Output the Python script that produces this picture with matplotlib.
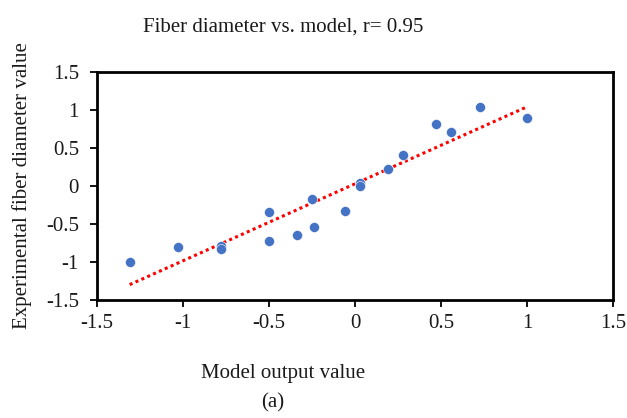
import numpy as np
import matplotlib
matplotlib.use("Agg")
import matplotlib.pyplot as plt

###data
model_out = [-1.31, -1.03, -0.78, -0.78, -0.50, -0.50, -0.34, -0.25, -0.24, -0.06,
             0.03, 0.03, 0.19, 0.28, 0.47, 0.56, 0.725, 1.00]
fiber_exp = [-1.00, -0.80, -0.785, -0.83, -0.34, -0.73, -0.64, -0.17, -0.535, -0.33,
             0.04, 0.005, 0.23, 0.41, 0.815, 0.715, 1.035, 0.895]
ticks = [-1.5, -1, -0.5, 0, 0.5, 1, 1.5]
tick_labels = ["-1.5", "-1", "-0.5", "0", "0.5", "1", "1.5"]

title = "Fiber diameter vs. model, r= 0.95"
xlabel = "Model output value"
ylabel = "Experimental fiber diameter value"

plt.rcParams['font.family'] = ['Liberation Serif', 'DejaVu Serif']

W, H = 627, 418
fig = plt.figure(figsize=(W / 100, H / 100), dpi=100)
ax = fig.add_axes([97 / W, 1 - 300 / H, (613 - 97) / W, (300 - 72) / H])

#linear trendline over the data range
x = np.array(model_out)
y = np.array(fiber_exp)
slope, icept = np.polyfit(x, y, 1)
xl = np.array([x.min(), x.max()])
ax.plot(xl, icept + slope * xl, color='red', lw=2.2, linestyle=(0, (1, 1.1)), zorder=2)

ax.scatter(x, y, s=52, color='#4472C4', edgecolor='white', linewidth=0.4, zorder=3)

ax.set_xlim(-1.5, 1.5)
ax.set_ylim(-1.5, 1.5)
ax.set_xticks(ticks)
ax.set_xticklabels(tick_labels)
ax.set_yticks(ticks)
ax.set_yticklabels(tick_labels)
ax.tick_params(axis='both', direction='out', length=5, width=1.3, labelsize=15, color='black',
               labelcolor='#1a1a1a')
ax.tick_params(axis='x', pad=5)
ax.tick_params(axis='y', pad=8)
for s in ax.spines.values():
    s.set_linewidth(2)
    s.set_color('black')

fig.text(283 / W, 1 - 32 / H, title, ha='center', va='baseline', fontsize=15, color='#1a1a1a')
fig.text(283 / W, 1 - 378 / H, xlabel, ha='center', va='baseline', fontsize=15, color='#1a1a1a')
fig.text(273 / W, 1 - 403 / H, "(a)", ha='center', va='center', fontsize=15, color='#1a1a1a')
fig.text(22 / W, 1 - 186 / H, ylabel, ha='center', va='center', rotation=90, fontsize=15,
         color='#1a1a1a')

fig.savefig("out.png", dpi=100)
